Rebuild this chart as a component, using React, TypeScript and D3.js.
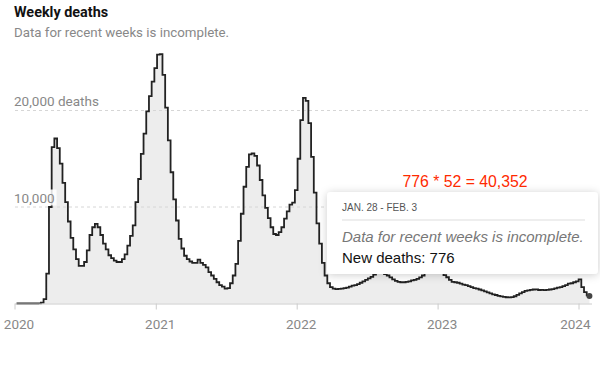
import React, { useEffect, useRef } from 'react'
import * as d3 from 'd3'

// weekly deaths, one value per week, weeks starting on Sunday from Jan. 5, 2020
const firstWeek = new Date(Date.UTC(2020, 0, 5))

const deaths2020 = [
  0, 0, 0, 0, 0, 0, 0, 2, 20, 100,
  450, 3100, 10000, 16200, 17100, 16100, 14500, 12500, 10500, 8500,
  6800, 5600, 4600, 3900, 3900, 4300, 5500, 7100, 7900, 8250,
  7900, 7100, 6200, 5600, 5000, 4700, 4450, 4300, 4300, 4600,
  5100, 6000, 7000, 8100, 10500, 12900, 15500, 17600, 19900, 21500,
  23000, 24400
]
const deaths2021 = [
  25800, 25850, 23700, 20300, 16900, 13600, 10800, 8600, 6700, 5700,
  4950, 4600, 4350, 4200, 4200, 4550, 4200, 4000, 3750, 3250,
  2900, 2550, 2200, 1900, 1750, 1550, 1600, 2100, 2900, 4100,
  6500, 9300, 12100, 14150, 15450, 15550, 15300, 14300, 12800, 11200,
  9900, 8850, 7900, 7200, 7100, 7400, 7900, 8800, 9550, 10250,
  10450, 11750
]
const deaths2022 = [
  15000, 19000, 21300, 21000, 18700, 15200, 11500, 8300, 6200, 4200,
  2900, 2100, 1700, 1550, 1500, 1520, 1550, 1600, 1650, 1750,
  1850, 1900, 2000, 2150, 2300, 2450, 2600, 2750, 3000, 3150,
  3250, 3200, 3050, 2900, 2700, 2500, 2350, 2250, 2200, 2200,
  2250, 2300, 2400, 2450, 2550, 2700, 2900, 3200, 3500, 3800,
  3950, 3800
]
const deaths2023 = [
  3500, 3200, 2950, 2720, 2450, 2250, 2200, 2150, 2050, 1950,
  1900, 1800, 1700, 1600, 1550, 1450, 1350, 1250, 1150, 1050,
  950, 880, 800, 740, 690, 650, 640, 660, 750, 900,
  1050, 1180, 1300, 1350, 1420, 1450, 1460, 1400, 1420, 1380,
  1420, 1450, 1500, 1570, 1650, 1700, 1800, 1900, 2050, 2100,
  2200, 2300, 2500
]
const deaths2024 = [1700, 1180, 850, 776]

const weeklyDeaths = [...deaths2020, ...deaths2021, ...deaths2022, ...deaths2023, ...deaths2024]

const yearTicks = [2020, 2021, 2022, 2023, 2024]
const yTicks = [10000, 20000]
const yTickLabels = ['10,000', '20,000 deaths']

const lastWeekLabel = 'JAN. 28 - FEB. 3'
const incompleteNote = 'Data for recent weeks is incomplete.'
const weeksPerYear = 52

function App() {
  const ref = useRef<SVGSVGElement>(null)

  useEffect(() => {
    drawChart(ref.current!)
  }, [])

  return (
    <svg
      ref={ref}
      width={600}
      height={372}
      style={{ position: 'absolute', left: 0, top: 0, background: '#fff' }}
    />
  )
}

function drawChart(node: SVGSVGElement) {
  const svg = d3.select(node)
  svg.selectAll('*').remove()

  const franklin = 'Roboto, "Liberation Sans", sans-serif'
  const helvetica = '"Liberation Sans", Arial, sans-serif'

  const data = weeklyDeaths.map((v, k) => ({ date: d3.utcDay.offset(firstWeek, 7 * k), value: v }))
  const last = data[data.length - 1]

  const x = d3.scaleUtc()
    .domain([new Date(Date.UTC(2020, 0, 1)), new Date(Date.UTC(2024, 0, 1))])
    .range([15, 579])
  const y = d3.scaleLinear().domain([0, 20000]).range([303.5, 110.5])

  const defs = svg.append('defs')
  const shadow = defs.append('filter')
    .attr('id', 'tipShadow')
    .attr('x', '-20%').attr('y', '-30%')
    .attr('width', '140%').attr('height', '160%')
  shadow.append('feDropShadow')
    .attr('dx', 0).attr('dy', 1)
    .attr('stdDeviation', 4)
    .attr('flood-color', '#000')
    .attr('flood-opacity', 0.2)

  // title
  svg.append('text')
    .attr('x', 14).attr('y', 17)
    .attr('font-family', franklin)
    .attr('font-weight', 700)
    .attr('font-size', 14.4)
    .attr('fill', '#121212')
    .text('Weekly deaths')
  svg.append('text')
    .attr('x', 14).attr('y', 37)
    .attr('font-family', franklin)
    .attr('font-size', 13.3)
    .attr('fill', '#888')
    .text(incompleteNote)

  // area
  const area = d3.area<{ date: Date; value: number }>()
    .curve(d3.curveStepAfter)
    .x(d => x(d.date))
    .y0(y(0))
    .y1(d => y(d.value))
  svg.append('path')
    .datum(data)
    .attr('d', area)
    .attr('fill', '#ededed')

  // grid
  svg.append('g')
    .selectAll('line')
    .data(yTicks)
    .enter()
    .append('line')
    .attr('x1', 15).attr('x2', 591)
    .attr('y1', d => y(d)).attr('y2', d => y(d))
    .attr('stroke', '#d6d6d6')
    .attr('stroke-dasharray', '3,3')

  // line
  const line = d3.line<{ date: Date; value: number }>()
    .curve(d3.curveStepAfter)
    .x(d => x(d.date))
    .y(d => y(d.value))
  svg.append('path')
    .datum(data)
    .attr('d', line)
    .attr('fill', 'none')
    .attr('stroke', '#222')
    .attr('stroke-width', 1.8)
    .attr('stroke-linejoin', 'miter')

  // y labels with white backing
  const yl = svg.append('g')
  yTicks.forEach((t, i) => {
    const txt = yl.append('text')
      .attr('x', 14).attr('y', y(t) - 4.5)
      .attr('font-family', franklin)
      .attr('font-size', 13.5)
      .attr('fill', '#888')
      .text(yTickLabels[i])
    const bb = (txt.node() as SVGTextElement).getBBox()
    yl.insert('rect', 'text')
      .attr('x', bb.x - 1).attr('y', bb.y)
      .attr('width', bb.width + 3).attr('height', bb.height)
      .attr('fill', '#fff')
      .attr('fill-opacity', 0.85)
  })

  // x axis
  const ax = svg.append('g')
  ax.append('line')
    .attr('x1', 15).attr('x2', 592)
    .attr('y1', y(0) + 0.5).attr('y2', y(0) + 0.5)
    .attr('stroke', '#ccc')
  yearTicks.forEach((yr, i) => {
    const tx = x(new Date(Date.UTC(yr, 0, 1)))
    ax.append('line')
      .attr('x1', tx).attr('x2', tx)
      .attr('y1', y(0)).attr('y2', y(0) + 6)
      .attr('stroke', '#ccc')
    const isLast = i === yearTicks.length - 1
    ax.append('text')
      .attr('x', isLast ? 590.5 : tx + 4)
      .attr('y', 329)
      .attr('text-anchor', isLast ? 'end' : 'middle')
      .attr('font-family', franklin)
      .attr('font-size', 13.5)
      .attr('fill', '#888')
      .text(String(yr))
  })

  // last point
  svg.append('circle')
    .attr('cx', x(last.date))
    .attr('cy', y(last.value))
    .attr('r', 3)
    .attr('fill', '#444')

  // annotation
  svg.append('text')
    .attr('x', 465).attr('y', 186.5)
    .attr('text-anchor', 'middle')
    .attr('font-family', helvetica)
    .attr('font-size', 15.8)
    .attr('fill', '#ff2a00')
    .text(`${last.value} * ${weeksPerYear} = ${d3.format(',')(last.value * weeksPerYear)}`)

  // tooltip
  const tip = svg.append('g')
  tip.append('rect')
    .attr('x', 327).attr('y', 192)
    .attr('width', 271).attr('height', 82)
    .attr('rx', 4)
    .attr('fill', '#fff')
    .attr('filter', 'url(#tipShadow)')
  tip.append('text')
    .attr('x', 342).attr('y', 210.5)
    .attr('font-family', helvetica)
    .attr('font-size', 10)
    .attr('fill', '#555')
    .text(lastWeekLabel)
  tip.append('line')
    .attr('x1', 342).attr('x2', 585)
    .attr('y1', 220).attr('y2', 220)
    .attr('stroke', '#ddd')
  tip.append('text')
    .attr('x', 342).attr('y', 241.5)
    .attr('font-family', helvetica)
    .attr('font-style', 'italic')
    .attr('font-size', 15)
    .attr('fill', '#777')
    .text(incompleteNote)
  tip.append('text')
    .attr('x', 342).attr('y', 262.5)
    .attr('font-family', helvetica)
    .attr('font-size', 15)
    .attr('fill', '#121212')
    .text(`New deaths: ${last.value}`)
}

export default App
